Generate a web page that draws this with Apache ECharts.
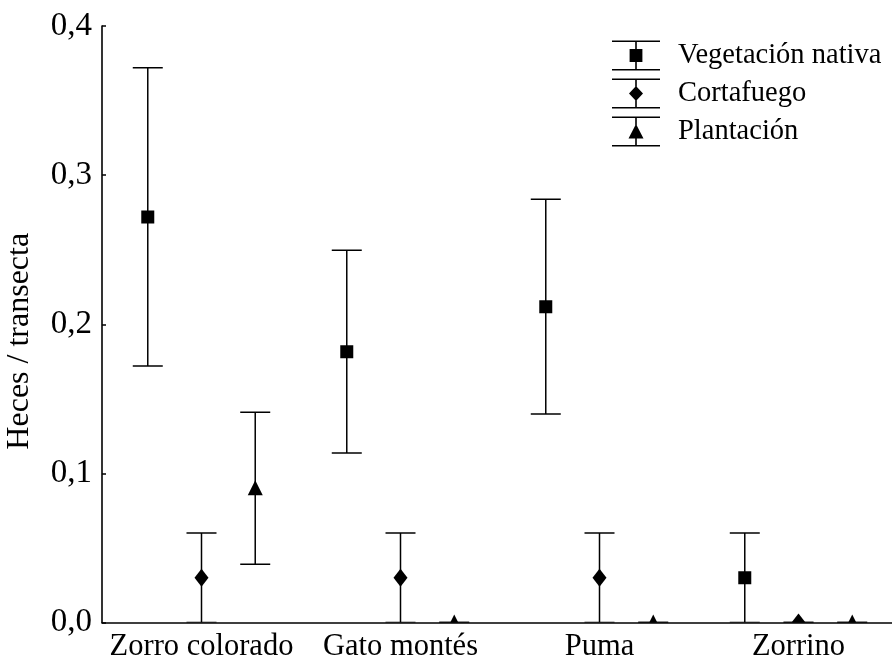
<!DOCTYPE html>
<html>
<head>
<meta charset="utf-8">
<script src="https://cdn.jsdelivr.net/npm/echarts@6/dist/echarts.min.js"></script>
<style>
  html, body { margin: 0; padding: 0; background: #fff; }
  #chart { width: 892px; height: 661px; }
</style>
</head>
<body>
<div id="chart"></div>
<script>
// Species sampled along the transects
const categories = ['Zorro colorado', 'Gato montés', 'Puma', 'Zorrino'];

// Mean scats per transect and error half-widths, per habitat
const vegMean   = [0.272, 0.1816, 0.2118, 0.03];
const vegErr    = [0.100, 0.068, 0.072, 0.03];
const cortaMean = [0.03, 0.03, 0.03, 0];
const cortaErr  = [0.03, 0.03, 0.03, 0];
const plantMean = [0.09, 0, 0, 0];
const plantErr  = [0.051, 0, 0, 0];

// Y axis tick values
const yTicks = [0, 0.1, 0.2, 0.3, 0.4];

// Horizontal offset of each habitat inside a species band (in category units)
const offsets = { veg: -0.27, corta: 0, plant: 0.27 };

const FONT = '"Liberation Serif", "Times New Roman", serif';

function buildRows(mean, err, off) {
  return mean.map((m, i) => [i + off, m, m - err[i], m + err[i]]);
}

const vegRows   = buildRows(vegMean, vegErr, offsets.veg);
const cortaRows = buildRows(cortaMean, cortaErr, offsets.corta);
const plantRows = buildRows(plantMean, plantErr, offsets.plant);

const CAP = 15;

function errorBarRender(params, api) {
  const x = api.value(0);
  const top = api.coord([x, api.value(3)]);
  const bot = api.coord([x, api.value(2)]);
  const style = { stroke: '#000', lineWidth: 1.5 };
  return {
    type: 'group',
    children: [
      { type: 'line', shape: { x1: top[0], y1: top[1], x2: bot[0], y2: bot[1] }, style },
      { type: 'line', shape: { x1: top[0] - CAP, y1: top[1], x2: top[0] + CAP, y2: top[1] }, style },
      { type: 'line', shape: { x1: bot[0] - CAP, y1: bot[1], x2: bot[0] + CAP, y2: bot[1] }, style }
    ]
  };
}

function markerPoints(kind, c) {
  const [x, y] = c;
  if (kind === 'square') {
    const h = 6.5;
    return [[x - h, y - h], [x + h, y - h], [x + h, y + h], [x - h, y + h]];
  }
  if (kind === 'diamond') {
    return [[x, y - 9], [x + 7, y], [x, y + 9], [x - 7, y]];
  }
  return [[x, y - 8], [x + 7.5, y + 7], [x - 7.5, y + 7]];
}

function markerRender(kind) {
  return function (params, api) {
    const c = api.coord([api.value(0), api.value(1)]);
    return { type: 'polygon', shape: { points: markerPoints(kind, c) }, style: { fill: '#000' } };
  };
}

// Legend glyphs: caps, stem and marker, 48 x 30 box
const capsAndStem = 'M0,0 L48,0 L48,1.6 L0,1.6 Z M0,28.4 L48,28.4 L48,30 L0,30 Z M23.2,0 L24.8,0 L24.8,30 L23.2,30 Z ';
const legendIcons = {
  veg:   'path://' + capsAndStem + 'M17.6,8.6 L30.4,8.6 L30.4,21.4 L17.6,21.4 Z',
  corta: 'path://' + capsAndStem + 'M24,7.5 L31,15 L24,22.5 L17,15 Z',
  plant: 'path://' + capsAndStem + 'M24,7.5 L31.5,22 L16.5,22 Z'
};

const names = ['Vegetación nativa', 'Cortafuego', 'Plantación'];

const chart = echarts.init(document.getElementById('chart'), null, { renderer: 'canvas' });

function barSeries(rows) {
  return {
    type: 'custom', xAxisIndex: 1, yAxisIndex: 0, clip: true, silent: true,
    renderItem: errorBarRender, data: rows, z: 2
  };
}
function markSeries(name, kind, rows) {
  return {
    name, type: 'custom', xAxisIndex: 1, yAxisIndex: 0, clip: true,
    itemStyle: { color: '#000' },
    renderItem: markerRender(kind), data: rows, z: 3
  };
}

chart.setOption({
  animation: false,
  backgroundColor: '#fff',
  textStyle: { fontFamily: FONT, color: '#000' },
  grid: {
    left: 102, width: 796, top: 26, bottom: 38.5,
    containLabel: false, outerBoundsMode: 'none'
  },
  legend: {
    orient: 'vertical', left: 612, top: 40.5, padding: 0,
    itemWidth: 48, itemHeight: 30, itemGap: 8,
    textStyle: { fontFamily: FONT, fontSize: 28.5, color: '#000', padding: [0, 0, 0, 13] },
    data: [
      { name: names[0], icon: legendIcons.veg },
      { name: names[1], icon: legendIcons.corta },
      { name: names[2], icon: legendIcons.plant }
    ],
    selectedMode: false,
    itemStyle: { color: '#000', borderWidth: 0 }
  },
  xAxis: [
    {
      type: 'category', data: categories, boundaryGap: true,
      axisLine: { show: true, lineStyle: { color: '#000', width: 1.6 } },
      axisTick: { show: false },
      axisLabel: { fontFamily: FONT, fontSize: 30.5, color: '#000', margin: 9, interval: 0 },
      splitLine: { show: false }, z: 5
    },
    {
      type: 'value', min: -0.5, max: 3.5, show: false,
      splitLine: { show: false }
    }
  ],
  yAxis: {
    type: 'value', min: yTicks[0], max: yTicks[yTicks.length - 1], interval: 0.1,
    name: 'Heces / transecta', nameLocation: 'middle', nameGap: 66,
    nameTextStyle: { fontFamily: FONT, fontSize: 32, color: '#000', padding: [0, 34, 0, 0] },
    axisLine: { show: true, onZero: false, lineStyle: { color: '#000', width: 1.6 } },
    axisTick: { show: true, inside: true, length: 4, lineStyle: { color: '#000', width: 1.5 } },
    axisLabel: {
      fontFamily: FONT, fontSize: 33, color: '#000', margin: 10,
      formatter: v => v.toFixed(1).replace('.', ',')
    },
    splitLine: { show: false }
  },
  series: [
    barSeries(vegRows), barSeries(cortaRows), barSeries(plantRows),
    markSeries(names[0], 'square', vegRows),
    markSeries(names[1], 'diamond', cortaRows),
    markSeries(names[2], 'triangle', plantRows)
  ]
});
</script>
</body>
</html>
